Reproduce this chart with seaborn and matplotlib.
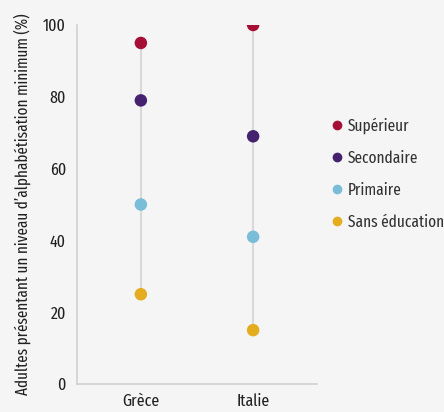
import matplotlib
matplotlib.use("Agg")
import matplotlib.pyplot as plt
import seaborn as sns
import pandas as pd
from matplotlib.lines import Line2D

countries = ["Grèce", "Italie"]
levels = ["Supérieur", "Secondaire", "Primaire", "Sans éducation"]
greece = [95, 79, 50, 25]
italy = [100, 69, 41, 15]
colors = ["#a50f35", "#45226f", "#79bdd8", "#e4ac1f"]
yticks = [0, 20, 40, 60, 80, 100]

rows = []
for c, vals in zip(countries, [greece, italy]):
    for l, v in zip(levels, vals):
        rows.append({"pays": c, "niveau": l, "valeur": v})
df = pd.DataFrame(rows)

sns.set_theme(style="white")
plt.rcParams["font.family"] = ["Fira Sans Extra Condensed", "Fira Sans Condensed", "DejaVu Sans"]
bg = "#f5f5f5"
txtc = "#222222"
fs = 12.5
fig = plt.figure(figsize=(4.44, 4.12), dpi=100, facecolor=bg)
ax = fig.add_axes([77/444, 1 - 384/412, 240/444, (384 - 25)/412])
ax.set_facecolor(bg)

for i, c in enumerate(countries):
    sub = df[df["pays"] == c]["valeur"]
    ax.plot([i, i], [sub.min(), sub.max()], color="#d9d9d9", lw=1.5, zorder=1)

sns.stripplot(data=df, x="pays", y="valeur", hue="niveau", hue_order=levels,
              palette=colors, jitter=False, size=9, linewidth=0, ax=ax,
              zorder=3, legend=False)

ax.set_xlim(-62/109, 1 + 62/109)
ax.set_ylim(0, 100)
ax.set_yticks(yticks)
ax.set_yticklabels([str(t) for t in yticks], fontsize=fs, color=txtc)
ax.tick_params(axis="y", length=4, color="#cccccc", width=1, pad=4)
ax.tick_params(axis="x", length=0, pad=7, labelsize=fs, labelcolor=txtc)
ax.set_xlabel("")
ax.set_ylabel("Adultes présentant un niveau d\u2019alphabétisation minimum (%)",
              fontsize=11.8, color=txtc, labelpad=9)
for s in ["top", "right"]:
    ax.spines[s].set_visible(False)
for s in ["left", "bottom"]:
    ax.spines[s].set_color("#d0d0d0")
    ax.spines[s].set_linewidth(1.2)

handles = [Line2D([0], [0], marker="o", linestyle="", markersize=7,
                  markerfacecolor=col, markeredgewidth=0) for col in colors]
fig.legend(handles, levels, loc="upper left", bbox_to_anchor=(322/444, 1 - 111/412),
           frameon=False, fontsize=12, handletextpad=0.15, labelspacing=0.95,
           handlelength=1.0, labelcolor="#333333", borderaxespad=0)

fig.savefig("out.png", dpi=100, facecolor=bg)
